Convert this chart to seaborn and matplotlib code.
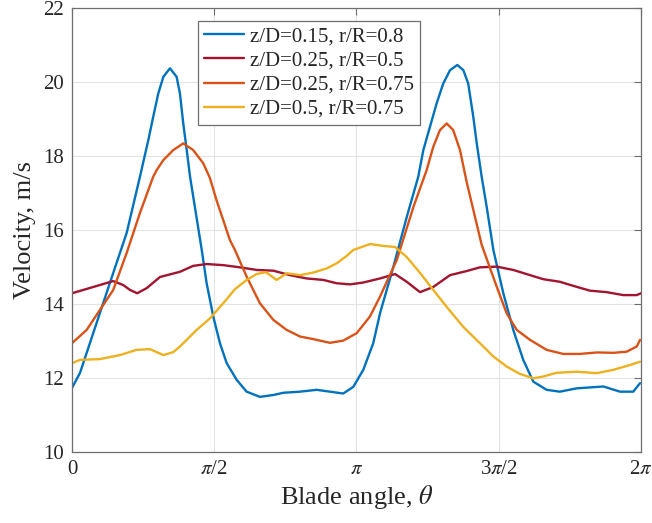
import numpy as np
import pandas as pd
import matplotlib
matplotlib.use("Agg")
import matplotlib.pyplot as plt
import seaborn as sns

# Blade angle (degrees) and measured velocity (m/s) for each probe location
blue_deg = [0, 5.1, 13.5, 26.1, 34.6, 43.0, 48.3, 51.4, 54.6, 57.8, 62.0, 66.2, 68.3, 70.4, 72.6,
            74.7, 78.4, 82.1, 85.2, 89.4, 93.6, 97.9, 104.2, 110.5, 118.9, 127.4, 133.7, 144.3,
            154.8, 163.2, 171.6, 178.0, 184.3, 190.6, 194.9, 203.3, 211.8, 219.1, 222.3, 226.5,
            230.7, 234.9, 239.2, 243.8, 247.6, 250.7, 253.9, 256.1, 259.2, 262.4, 266.6, 272.9,
            279.2, 285.5, 291.9, 300.3, 308.7, 319.3, 336.2, 346.7, 355.1, 359.4]
blue_vel = [11.73, 12.14, 13.22, 14.84, 15.92, 17.44, 18.43, 19.06, 19.69, 20.14, 20.37, 20.14, 19.69, 18.88, 18.16,
            17.44, 16.45, 15.46, 14.56, 13.66, 12.94, 12.40, 11.95, 11.63, 11.49, 11.54, 11.60, 11.63,
            11.68, 11.63, 11.58, 11.76, 12.22, 12.94, 13.75, 15.0, 16.35, 17.44, 18.16, 18.79,
            19.42, 19.96, 20.32, 20.46, 20.32, 19.96, 19.06, 18.34, 17.44, 16.62, 15.46, 14.29,
            13.30, 12.49, 11.90, 11.68, 11.63, 11.72, 11.77, 11.63, 11.63, 11.86]

red_deg = [0, 13.5, 26.1, 32.5, 36.7, 41.3, 47.3, 55.7, 68.3, 76.7, 85.2, 95.7, 106.3, 116.9,
           127.4, 137.9, 148.5, 159.0, 167.5, 175.9, 184.3, 194.9, 204.4, 211.8, 220.2, 228.6,
           239.2, 249.7, 258.1, 268.7, 279.2, 289.8, 298.2, 308.7, 317.2, 327.7, 338.3, 348.8,
           357.3, 360]
red_vel = [14.29, 14.46, 14.62, 14.51, 14.38, 14.29, 14.43, 14.73, 14.87, 15.03, 15.08, 15.05, 14.99, 14.92,
           14.90, 14.78, 14.69, 14.65, 14.56, 14.53, 14.58, 14.69, 14.81, 14.6, 14.32, 14.46,
           14.78, 14.89, 14.99, 15.01, 14.92, 14.78, 14.67, 14.60, 14.49, 14.36, 14.32, 14.24,
           14.24, 14.29]

orange_deg = [0, 9.3, 17.7, 26.1, 34.6, 43.0, 51.4, 53.6, 57.8, 64.1, 70.4, 76.7, 83.1, 87.3, 91.5,
              99.9, 103.1, 110.5, 118.9, 127.4, 135.8, 144.3, 152.7, 163.2, 171.6, 180.1, 188.5,
              194.9, 205.5, 216.0, 224.4, 228.6, 232.8, 237.1, 241.2, 245.5, 249.7, 259.2, 268.7,
              275.0, 281.4, 289.8, 300.3, 310.8, 321.4, 332.0, 342.5, 350.9, 357.3, 359.4]
orange_vel = [12.94, 13.3, 13.84, 14.38, 15.38, 16.46, 17.44, 17.62, 17.89, 18.16, 18.34, 18.16, 17.8, 17.4, 16.8,
              15.73, 15.46, 14.74, 14.02, 13.57, 13.30, 13.12, 13.05, 12.95, 13.01, 13.21, 13.66,
              14.20, 15.19, 16.62, 17.62, 18.25, 18.7, 18.88, 18.7, 18.16, 17.3, 15.6, 14.47,
              13.75, 13.30, 13.03, 12.76, 12.65, 12.65, 12.69, 12.68, 12.71, 12.85, 13.03]

yellow_deg = [0, 5.1, 17.7, 30.4, 40.9, 49.3, 57.8, 64.1, 68.3, 78.9, 87.3, 95.7, 103.1, 110.5,
              116.9, 122.7, 129.5, 135.8, 144.3, 152.7, 161.1, 167.5, 173.8, 178.0, 188.6, 196.9,
              204.4, 211.8, 220.2, 228.6, 237.1, 247.6, 258.1, 266.6, 275.0, 283.4, 291.9, 298.2,
              306.6, 319.3, 332.0, 342.5, 353.0, 359.4]
yellow_vel = [12.4, 12.49, 12.51, 12.62, 12.76, 12.78, 12.62, 12.7, 12.85, 13.30, 13.61, 14.02, 14.40, 14.65,
              14.81, 14.86, 14.65, 14.83, 14.78, 14.85, 14.96, 15.10, 15.30, 15.46, 15.62, 15.57,
              15.54, 15.27, 14.84, 14.38, 13.92, 13.38, 12.94, 12.58, 12.31, 12.11, 11.99, 12.04,
              12.14, 12.17, 12.13, 12.22, 12.35, 12.44]

labels = ["z/D=0.15, r/R=0.8", "z/D=0.25, r/R=0.5", "z/D=0.25, r/R=0.75", "z/D=0.5, r/R=0.75"]
colors = ["#0072BD", "#A2142F", "#D95319", "#EDB120"]

x_ticks = [0, np.pi / 2, np.pi, 3 * np.pi / 2, 2 * np.pi]
x_ticklabels = ["0", r"$\pi$/2", r"$\pi$", r"3$\pi$/2", r"2$\pi$"]
y_ticks = [10, 12, 14, 16, 18, 20, 22]

frames = []
for lab, d, v in zip(labels, [blue_deg, red_deg, orange_deg, yellow_deg],
                     [blue_vel, red_vel, orange_vel, yellow_vel]):
    frames.append(pd.DataFrame({"theta": np.deg2rad(d), "vel": v, "series": lab}))
df = pd.concat(frames, ignore_index=True)

sns.set_theme(style="white")
plt.rcParams["font.family"] = ["Liberation Serif", "DejaVu Serif"]
plt.rcParams["mathtext.fontset"] = "stix"

fig = plt.figure(figsize=(6.52, 5.23), dpi=100)
ax = fig.add_axes([0.1104, 0.1358, 0.8727, 0.8489])

sns.lineplot(data=df, x="theta", y="vel", hue="series", hue_order=labels,
             palette=colors, estimator=None, sort=False, linewidth=1.7, ax=ax)
for ln in ax.get_lines():
    ln.set_solid_joinstyle("round")

ax.set_xlim(0, 2 * np.pi)
ax.set_ylim(10, 22)
ax.set_xticks(x_ticks)
ax.set_xticklabels(x_ticklabels)
ax.set_yticks(y_ticks)
ax.grid(True, color="#e3e3e3", linewidth=0.8)
ax.set_axisbelow(True)
for s in ax.spines.values():
    s.set_color("#6e6e6e")
    s.set_linewidth(0.9)
ax.tick_params(direction="in", length=5, width=0.8, color="#6e6e6e",
               top=True, right=True, labelsize=15, labelcolor="#262626", pad=6)

ax.set_xlabel(r"Blade angle, $\theta$", fontsize=19, color="#262626", labelpad=3)
ax.set_ylabel("Velocity, m/s", fontsize=19, color="#262626", labelpad=5)

leg = ax.legend(loc="upper left", bbox_to_anchor=(0.2214, 0.9714), borderaxespad=0,
                fontsize=15, frameon=True, fancybox=False, framealpha=1,
                edgecolor="#6e6e6e", handlelength=1.9, handletextpad=0.3,
                labelspacing=0.22, borderpad=0.3)
leg.get_frame().set_linewidth(0.9)
for t in leg.get_texts():
    t.set_color("#262626")

fig.savefig("out.png", dpi=100)
